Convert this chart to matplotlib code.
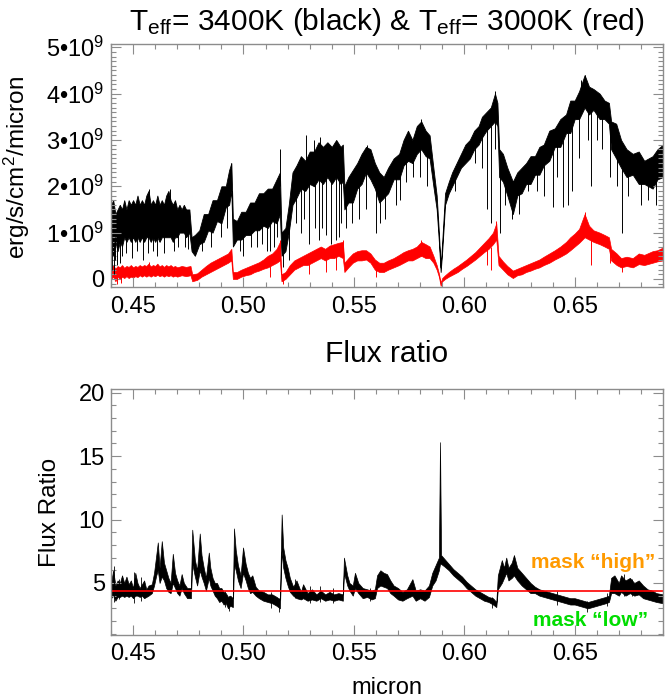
import matplotlib.pyplot as plt
from matplotlib.ticker import MultipleLocator, FixedLocator, FixedFormatter

plt.rcParams['font.family'] = ['Liberation Sans', 'DejaVu Sans']
plt.rcParams['mathtext.fontset'] = 'custom'
plt.rcParams['mathtext.rm'] = 'Liberation Sans'
plt.rcParams['mathtext.it'] = 'Liberation Sans:italic'
plt.rcParams['mathtext.bf'] = 'Liberation Sans:bold'

# Teff = 3400K spectrum (units of 1e9 erg/s/cm2/micron): wavelength, lower and upper edge of the band
wl_hot = [0.4400, 0.4410, 0.4420, 0.4430, 0.4440, 0.4450, 0.4460, 0.4470, 0.4480, 0.4490,
          0.4500, 0.4510, 0.4520, 0.4530, 0.4540, 0.4550, 0.4560, 0.4570, 0.4580, 0.4590,
          0.4600, 0.4610, 0.4620, 0.4630, 0.4640, 0.4650, 0.4660, 0.4670, 0.4680, 0.4690,
          0.4700, 0.4710, 0.4720, 0.4730, 0.4740, 0.4755, 0.4765, 0.4780, 0.4800, 0.4820,
          0.4840, 0.4860, 0.4880, 0.4900, 0.4920, 0.4935, 0.4945, 0.4952, 0.4970, 0.4990,
          0.5010, 0.5030, 0.5050, 0.5070, 0.5090, 0.5110, 0.5130, 0.5150, 0.5165, 0.5172,
          0.5190, 0.5205, 0.5222, 0.5240, 0.5260, 0.5280, 0.5300, 0.5320, 0.5340, 0.5360,
          0.5380, 0.5400, 0.5420, 0.5440, 0.5450, 0.5457, 0.5475, 0.5495, 0.5515, 0.5535,
          0.5555, 0.5575, 0.5595, 0.5615, 0.5635, 0.5655, 0.5680, 0.5705, 0.5725, 0.5745,
          0.5765, 0.5785, 0.5805, 0.5825, 0.5843, 0.5860, 0.5875, 0.5885, 0.5893, 0.5900,
          0.5913, 0.5930, 0.5945, 0.5965, 0.5985, 0.6005, 0.6025, 0.6045, 0.6065, 0.6080,
          0.6100, 0.6120, 0.6139, 0.6150, 0.6158, 0.6175, 0.6195, 0.6220, 0.6240, 0.6260,
          0.6280, 0.6300, 0.6320, 0.6340, 0.6360, 0.6385, 0.6410, 0.6435, 0.6461, 0.6480,
          0.6500, 0.6520, 0.6545, 0.6565, 0.6585, 0.6613, 0.6635, 0.6655, 0.6665, 0.6688,
          0.6710, 0.6735, 0.6763, 0.6790, 0.6815, 0.6853, 0.6875, 0.6900]
lo_hot = [0.7, 0.5, 0.8, 0.6, 0.8, 0.7, 0.9, 0.8, 0.9, 0.8,
          0.9, 0.8, 0.9, 0.8, 0.9, 0.8, 0.9, 0.9, 0.8, 0.9,
          0.8, 0.9, 0.8, 0.9, 0.9, 0.9, 0.9, 0.9, 0.8, 0.9,
          0.9, 1.0, 1.0, 1.0, 0.9, 1.0, 0.6, 0.5, 0.75, 0.8,
          1.05, 1.0, 1.25, 1.2, 1.55, 1.6, 1.9, 0.7, 0.85, 0.85,
          0.95, 0.95, 1.05, 1.05, 1.15, 1.1, 1.25, 1.2, 1.4, 0.5,
          0.6, 1.0, 1.6, 1.75, 1.95, 1.9, 2.05, 2.0, 2.15, 2.05,
          2.2, 2.05, 2.2, 2.05, 2.1, 1.5, 1.65, 1.65, 1.95, 2.05,
          2.3, 2.15, 1.95, 1.65, 1.75, 1.85, 2.15, 2.15, 2.45, 2.55,
          2.5, 2.7, 2.8, 2.65, 2.6, 2.0, 1.5, 0.8, 0.15, 0.6,
          1.6, 1.85, 2.0, 2.2, 2.4, 2.5, 2.6, 2.8, 2.9, 3.05,
          3.2, 3.3, 3.4, 3.3, 2.2, 2.1, 1.8, 1.4, 1.8, 1.85,
          2.05, 2.05, 2.25, 2.25, 2.45, 2.55, 2.85, 2.85, 3.15, 3.15,
          3.45, 3.45, 3.7, 3.55, 3.65, 3.45, 3.45, 3.35, 2.8, 2.6,
          2.4, 2.2, 2.25, 2.05, 2.05, 1.95, 2.15, 2.2]
hi_hot = [1.6, 1.7, 1.4, 1.5, 1.6, 1.5, 1.7, 1.5, 1.7, 1.6,
          1.7, 1.6, 1.8, 1.6, 1.7, 1.6, 1.8, 1.9, 1.6, 1.7,
          1.6, 1.8, 1.6, 1.7, 1.6, 1.8, 1.9, 1.7, 1.6, 1.7,
          1.5, 1.6, 1.5, 1.6, 1.5, 1.5, 0.9, 0.95, 1.05, 1.4,
          1.4, 1.7, 1.7, 2.0, 2.0, 2.35, 2.5, 1.3, 1.25, 1.45,
          1.45, 1.65, 1.65, 1.85, 1.85, 1.95, 1.95, 2.15, 2.3, 1.0,
          1.1, 1.6, 2.3, 2.45, 2.65, 2.55, 2.75, 2.75, 2.95, 2.85,
          2.95, 2.85, 3.0, 2.85, 2.9, 2.0, 2.2, 2.35, 2.5, 2.7,
          2.85, 2.8, 2.5, 2.3, 2.2, 2.4, 2.6, 2.7, 3.0, 3.2,
          3.0, 3.3, 3.4, 3.2, 3.1, 2.4, 1.8, 1.0, 0.25, 0.8,
          1.85, 2.1, 2.3, 2.5, 2.7, 2.9, 3.0, 3.2, 3.3, 3.5,
          3.6, 3.7, 4.0, 3.8, 2.8, 2.7, 2.4, 2.1, 2.3, 2.4,
          2.5, 2.65, 2.65, 2.85, 2.9, 3.2, 3.25, 3.45, 3.55, 3.85,
          3.85, 4.05, 4.4, 4.15, 4.1, 4.0, 3.85, 3.8, 3.4, 3.35,
          3.0, 2.8, 2.7, 2.75, 2.55, 2.65, 2.8, 2.9]

# narrow lines of the 3400K spectrum (absorption dips and spikes): wavelength, bottom, top
line_wl_hot = [0.4405, 0.4412, 0.4418, 0.4425, 0.4440, 0.4450, 0.4470, 0.4495, 0.4520, 0.4545,
               0.4568, 0.4570, 0.4590, 0.4610, 0.4640, 0.4665, 0.4685, 0.4705, 0.4733, 0.4750,
               0.4810, 0.4855, 0.4900, 0.4925, 0.4945, 0.4985, 0.5000, 0.5035, 0.5060, 0.5085,
               0.5105, 0.5120, 0.5140, 0.5150, 0.5165, 0.5180, 0.5208, 0.5240, 0.5260, 0.5275,
               0.5282, 0.5297, 0.5318, 0.5325, 0.5342, 0.5348, 0.5355, 0.5372, 0.5395, 0.5417,
               0.5432, 0.5440, 0.5465, 0.5490, 0.5525, 0.5555, 0.5560, 0.5598, 0.5620, 0.5640,
               0.5690, 0.5710, 0.5738, 0.5770, 0.5800, 0.5806, 0.5830, 0.5960, 0.6050, 0.6080,
               0.6103, 0.6123, 0.6139, 0.6140, 0.6163, 0.6185, 0.6215, 0.6250, 0.6290, 0.6330,
               0.6360, 0.6400, 0.6420, 0.6445, 0.6468, 0.6490, 0.6520, 0.6530, 0.6545, 0.6560,
               0.6575, 0.6600, 0.6625, 0.6658, 0.6690, 0.6715, 0.6740, 0.6800, 0.6830, 0.6870]
line_lo_hot = [0.2, 0.1, 0.4, 0.3, 0.35, 0.5, 0.55, 0.45, 0.6, 0.4,
               0.55, 1.5, 0.6, 0.5, 0.55, 1.5, 0.6, 0.7, 0.7, 0.65,
               0.6, 0.7, 0.9, 1.1, 2.0, 0.6, 0.5, 0.7, 0.7, 0.75,
               0.6, 0.6, 0.7, 0.9, 2.0, 0.25, 0.4, 1.2, 1.0, 1.3,
               2.4, 0.75, 2.4, 1.1, 0.85, 2.6, 1.1, 0.95, 0.75, 0.85,
               0.9, 1.2, 1.1, 1.2, 1.3, 1.5, 2.6, 1.0, 1.2, 1.3,
               1.6, 1.7, 2.1, 2.2, 2.2, 3.1, 2.0, 1.9, 2.5, 2.4,
               1.5, 1.2, 3.6, 2.8, 1.0, 1.6, 1.3, 1.4, 1.9, 1.9,
               1.8, 1.55, 2.2, 1.55, 1.6, 1.9, 2.6, 3.8, 4.0, 3.0,
               2.0, 3.0, 2.8, 2.2, 2.0, 1.0, 1.8, 1.6, 1.7, 1.6]
line_hi_hot = [0.9, 0.8, 0.9, 0.9, 0.9, 0.9, 0.9, 0.95, 1.0, 1.0,
               1.0, 1.95, 1.0, 1.0, 1.0, 1.95, 1.0, 1.0, 1.1, 1.1,
               0.9, 1.2, 1.4, 1.6, 2.5, 0.95, 1.0, 1.1, 1.2, 1.2,
               1.3, 1.3, 1.3, 1.5, 2.8, 0.8, 1.2, 1.9, 2.0, 2.1,
               3.1, 2.1, 3.0, 2.2, 2.2, 3.07, 2.2, 2.2, 2.3, 2.3,
               2.2, 2.2, 1.8, 1.8, 2.0, 2.4, 2.9, 2.1, 1.8, 1.9,
               2.2, 2.3, 2.6, 2.7, 2.8, 3.45, 2.7, 2.3, 2.9, 3.1,
               3.3, 3.4, 4.05, 3.5, 2.4, 2.2, 1.8, 1.9, 2.2, 2.3,
               2.5, 2.9, 2.9, 3.0, 3.2, 3.3, 3.6, 4.3, 4.4, 3.7,
               3.8, 3.6, 3.5, 3.5, 2.7, 2.5, 2.3, 2.1, 2.1, 2.2]

# Teff = 3000K spectrum
wl_cool = [0.4400, 0.4410, 0.4420, 0.4430, 0.4440, 0.4450, 0.4460, 0.4470, 0.4480, 0.4490,
           0.4500, 0.4510, 0.4520, 0.4530, 0.4540, 0.4550, 0.4560, 0.4570, 0.4580, 0.4590,
           0.4600, 0.4610, 0.4620, 0.4630, 0.4640, 0.4650, 0.4660, 0.4670, 0.4680, 0.4690,
           0.4700, 0.4720, 0.4740, 0.4760, 0.4768, 0.4790, 0.4810, 0.4830, 0.4850, 0.4870,
           0.4890, 0.4910, 0.4930, 0.4945, 0.4952, 0.4970, 0.4990, 0.5010, 0.5030, 0.5050,
           0.5070, 0.5090, 0.5110, 0.5130, 0.5150, 0.5165, 0.5172, 0.5190, 0.5210, 0.5230,
           0.5250, 0.5270, 0.5290, 0.5310, 0.5330, 0.5350, 0.5370, 0.5390, 0.5410, 0.5430,
           0.5450, 0.5457, 0.5475, 0.5495, 0.5515, 0.5535, 0.5555, 0.5575, 0.5595, 0.5615,
           0.5635, 0.5655, 0.5680, 0.5705, 0.5725, 0.5745, 0.5765, 0.5785, 0.5805, 0.5825,
           0.5843, 0.5860, 0.5875, 0.5885, 0.5893, 0.5900, 0.5913, 0.5930, 0.5950, 0.5970,
           0.5990, 0.6010, 0.6030, 0.6050, 0.6070, 0.6090, 0.6110, 0.6130, 0.6145, 0.6155,
           0.6175, 0.6195, 0.6220, 0.6240, 0.6260, 0.6280, 0.6300, 0.6320, 0.6340, 0.6360,
           0.6385, 0.6410, 0.6435, 0.6461, 0.6480, 0.6500, 0.6520, 0.6545, 0.6565, 0.6585,
           0.6613, 0.6635, 0.6655, 0.6665, 0.6690, 0.6710, 0.6735, 0.6763, 0.6790, 0.6815,
           0.6853, 0.6875, 0.6900]
lo_cool = [0.00, 0.05, -0.05, 0.05, 0.00, 0.05, 0.02, 0.06, 0.02, 0.05,
           0.03, 0.06, 0.04, 0.08, 0.05, 0.08, 0.05, 0.08, 0.05, 0.08,
           0.06, 0.09, 0.06, 0.08, 0.05, 0.08, 0.06, 0.08, 0.05, 0.07,
           0.05, 0.08, 0.06, 0.08, -0.05, -0.02, 0.05, 0.10, 0.15, 0.20,
           0.25, 0.30, 0.35, 0.40, 0.00, 0.00, 0.05, 0.08, 0.10, 0.15,
           0.18, 0.22, 0.25, 0.30, 0.35, 0.40, -0.05, 0.00, 0.10, 0.20,
           0.25, 0.30, 0.30, 0.35, 0.40, 0.45, 0.40, 0.45, 0.45, 0.50,
           0.45, 0.15, 0.25, 0.35, 0.40, 0.40, 0.42, 0.35, 0.20, 0.15,
           0.15, 0.20, 0.25, 0.30, 0.35, 0.40, 0.40, 0.45, 0.50, 0.45,
           0.45, 0.35, 0.20, 0.05, -0.15, -0.05, 0.00, 0.05, 0.10, 0.15,
           0.22, 0.28, 0.35, 0.42, 0.50, 0.58, 0.65, 0.75, 0.85, 0.30,
           0.20, 0.10, 0.02, 0.08, 0.10, 0.15, 0.18, 0.22, 0.25, 0.30,
           0.35, 0.42, 0.48, 0.55, 0.62, 0.70, 0.78, 0.90, 0.85, 0.80,
           0.75, 0.70, 0.65, 0.40, 0.30, 0.25, 0.28, 0.25, 0.32, 0.30,
           0.35, 0.38, 0.40]
hi_cool = [0.25, 0.30, 0.22, 0.28, 0.25, 0.30, 0.24, 0.28, 0.26, 0.30,
           0.25, 0.28, 0.26, 0.30, 0.27, 0.30, 0.28, 0.33, 0.27, 0.30,
           0.28, 0.33, 0.27, 0.30, 0.26, 0.30, 0.27, 0.30, 0.26, 0.28,
           0.25, 0.28, 0.26, 0.28, 0.10, 0.12, 0.20, 0.28, 0.35, 0.40,
           0.45, 0.50, 0.55, 0.65, 0.15, 0.15, 0.20, 0.24, 0.28, 0.32,
           0.36, 0.42, 0.50, 0.55, 0.65, 0.80, 0.10, 0.15, 0.30, 0.40,
           0.45, 0.50, 0.55, 0.60, 0.65, 0.70, 0.65, 0.72, 0.75, 0.78,
           0.80, 0.35, 0.45, 0.55, 0.60, 0.62, 0.62, 0.55, 0.42, 0.35,
           0.35, 0.40, 0.45, 0.52, 0.58, 0.62, 0.65, 0.70, 0.80, 0.75,
           0.70, 0.50, 0.30, 0.12, -0.08, 0.02, 0.08, 0.15, 0.22, 0.28,
           0.35, 0.42, 0.50, 0.58, 0.68, 0.78, 0.88, 1.00, 1.20, 0.50,
           0.38, 0.28, 0.18, 0.22, 0.26, 0.30, 0.34, 0.38, 0.42, 0.48,
           0.55, 0.62, 0.70, 0.80, 0.90, 0.98, 1.08, 1.40, 1.15, 1.05,
           1.00, 0.95, 0.90, 0.65, 0.55, 0.45, 0.48, 0.45, 0.55, 0.52,
           0.60, 0.62, 0.68]

line_wl_cool = [0.4425, 0.4445, 0.4570, 0.5120, 0.5165, 0.5180, 0.5298, 0.5372, 0.5417, 0.5450,
                0.5598, 0.5805, 0.6103, 0.6123, 0.6145, 0.6545, 0.6575, 0.6658, 0.6715]
line_lo_cool = [-0.10, -0.08, 0.10, 0.05, 0.40, -0.10, 0.10, 0.15, 0.20, 0.50,
                0.05, 0.50, 0.30, 0.20, 0.90, 1.00, 0.30, 0.35, 0.15]
line_hi_cool = [0.10, 0.10, 0.36, 0.30, 0.85, 0.05, 0.35, 0.45, 0.50, 0.85,
                0.25, 0.85, 0.70, 0.70, 1.25, 1.45, 1.00, 0.70, 0.35]

# flux ratio 3400K / 3000K
wl_ratio = [0.4400, 0.4410, 0.4420, 0.4430, 0.4440, 0.4450, 0.4460, 0.4470, 0.4480, 0.4490,
            0.4500, 0.4510, 0.4520, 0.4530, 0.4540, 0.4550, 0.4560, 0.4570, 0.4585, 0.4595,
            0.4605, 0.4612, 0.4620, 0.4630, 0.4640, 0.4650, 0.4660, 0.4670, 0.4680, 0.4690,
            0.4700, 0.4710, 0.4720, 0.4730, 0.4745, 0.4762, 0.4768, 0.4780, 0.4790, 0.4802,
            0.4810, 0.4820, 0.4830, 0.4843, 0.4850, 0.4860, 0.4870, 0.4880, 0.4890, 0.4900,
            0.4910, 0.4920, 0.4930, 0.4940, 0.4952, 0.4957, 0.4965, 0.4975, 0.4987, 0.4998,
            0.5010, 0.5020, 0.5030, 0.5040, 0.5055, 0.5070, 0.5090, 0.5110, 0.5130, 0.5150,
            0.5165, 0.5173, 0.5180, 0.5190, 0.5200, 0.5210, 0.5225, 0.5240, 0.5260, 0.5270,
            0.5290, 0.5310, 0.5330, 0.5350, 0.5370, 0.5390, 0.5410, 0.5430, 0.5450, 0.5455,
            0.5470, 0.5480, 0.5495, 0.5505, 0.5520, 0.5540, 0.5560, 0.5580, 0.5595, 0.5605,
            0.5620, 0.5635, 0.5650, 0.5665, 0.5680, 0.5700, 0.5720, 0.5740, 0.5765, 0.5780,
            0.5800, 0.5820, 0.5840, 0.5855, 0.5870, 0.5885, 0.5890, 0.5895, 0.5910, 0.5930,
            0.5950, 0.5970, 0.5990, 0.6010, 0.6030, 0.6050, 0.6070, 0.6090, 0.6110, 0.6130,
            0.6145, 0.6152, 0.6170, 0.6180, 0.6190, 0.6200, 0.6215, 0.6225, 0.6240, 0.6260,
            0.6280, 0.6300, 0.6320, 0.6340, 0.6360, 0.6380, 0.6400, 0.6420, 0.6440, 0.6460,
            0.6480, 0.6500, 0.6520, 0.6540, 0.6560, 0.6580, 0.6600, 0.6620, 0.6640, 0.6655,
            0.6665, 0.6680, 0.6700, 0.6710, 0.6730, 0.6750, 0.6770, 0.6790, 0.6810, 0.6830,
            0.6850, 0.6870, 0.6900]
lo_ratio = [3.8, 4.0, 3.6, 3.9, 3.9, 4.0, 3.9, 4.0, 3.9, 4.0,
            3.8, 4.0, 4.0, 3.9, 4.0, 3.8, 3.9, 4.0, 4.2, 4.8,
            5.6, 6.0, 5.0, 5.5, 5.2, 4.6, 4.3, 4.2, 5.0, 4.6,
            4.2, 4.0, 4.6, 4.2, 3.8, 3.8, 6.5, 5.5, 4.8, 6.0,
            5.5, 5.0, 4.4, 5.4, 4.8, 4.4, 4.0, 3.8, 3.5, 3.6,
            3.3, 3.4, 3.0, 3.2, 3.1, 6.5, 6.0, 5.2, 4.6, 5.8,
            5.2, 4.6, 4.2, 4.3, 4.0, 3.8, 3.6, 3.5, 3.4, 3.2,
            3.0, 7.5, 6.2, 5.4, 4.8, 4.3, 4.0, 3.8, 3.7, 3.8,
            3.6, 3.7, 3.6, 3.8, 3.6, 3.7, 3.6, 3.7, 3.6, 5.8,
            4.8, 4.4, 4.0, 4.6, 4.2, 3.8, 3.9, 3.7, 3.8, 4.6,
            4.8, 4.7, 4.6, 4.2, 4.0, 3.7, 3.6, 3.8, 4.0, 3.6,
            3.8, 3.6, 3.9, 4.8, 5.2, 6.0, 6.5, 6.5, 6.3, 6.0,
            5.6, 5.3, 5.0, 4.6, 4.3, 4.0, 3.8, 3.6, 3.5, 3.3,
            3.1, 4.5, 5.0, 5.4, 5.8, 5.2, 5.4, 5.6, 5.2, 4.8,
            4.5, 4.2, 4.2, 4.0, 3.9, 3.8, 3.7, 3.6, 3.5, 3.4,
            3.3, 3.3, 3.2, 3.1, 3.0, 3.1, 3.2, 3.3, 3.4, 3.5,
            4.2, 4.2, 4.0, 4.3, 4.0, 4.2, 4.0, 4.1, 3.8, 3.7,
            3.6, 3.5, 3.4]
hi_ratio = [5.0, 6.0, 4.8, 5.2, 5.0, 5.6, 5.0, 5.5, 4.9, 5.2,
            4.6, 5.8, 5.0, 4.6, 4.9, 5.2, 4.5, 4.8, 4.9, 5.8,
            7.2, 8.2, 6.2, 8.3, 6.6, 6.0, 5.4, 5.0, 7.3, 5.8,
            5.2, 4.8, 5.7, 5.0, 4.6, 4.6, 9.2, 6.8, 6.0, 8.9,
            7.2, 6.2, 5.4, 7.4, 6.2, 5.4, 5.0, 5.0, 4.6, 4.6,
            4.3, 4.2, 3.9, 4.0, 3.8, 9.3, 7.6, 6.4, 5.6, 7.8,
            6.5, 5.8, 5.4, 5.6, 4.7, 4.4, 4.3, 4.1, 4.1, 3.9,
            3.7, 10.4, 7.8, 6.8, 6.2, 5.4, 4.7, 5.2, 4.3, 4.9,
            4.2, 4.5, 4.1, 4.4, 4.1, 4.3, 4.1, 4.2, 4.1, 7.0,
            5.6, 5.0, 4.8, 5.8, 5.0, 4.6, 4.5, 4.4, 4.5, 5.6,
            6.0, 5.8, 5.7, 5.2, 4.8, 4.6, 4.3, 4.5, 5.3, 4.4,
            4.5, 4.4, 4.8, 5.8, 6.4, 7.0, 16.1, 7.2, 6.9, 6.5,
            6.1, 5.8, 5.5, 5.1, 4.8, 4.5, 4.3, 4.1, 3.9, 3.8,
            3.5, 5.6, 6.8, 6.2, 7.0, 6.2, 6.6, 7.2, 6.2, 5.8,
            5.4, 5.0, 4.7, 4.5, 4.4, 4.3, 4.2, 4.1, 4.0, 3.9,
            3.8, 3.8, 3.7, 3.6, 3.5, 3.6, 3.7, 3.8, 3.9, 4.0,
            5.4, 5.6, 5.0, 5.6, 5.2, 5.4, 5.0, 5.2, 4.8, 4.5,
            4.4, 4.2, 4.1]

line_wl_ratio = [0.4415, 0.4435, 0.4505, 0.4535, 0.4915, 0.4935, 0.5125, 0.5163, 0.5235, 0.5300,
                 0.5345, 0.5405, 0.5575, 0.6125, 0.6420, 0.6555, 0.6645, 0.6725, 0.6760]
line_lo_ratio = [3.5, 3.7, 3.4, 3.6, 3.1, 2.8, 3.0, 2.7, 3.8, 3.4,
                 3.5, 3.4, 3.6, 3.0, 3.3, 2.7, 3.2, 4.0, 4.0]
line_hi_ratio = [6.3, 5.3, 5.9, 5.5, 4.4, 4.0, 4.3, 3.8, 5.3, 4.8,
                 4.8, 4.6, 4.6, 3.9, 4.4, 3.6, 4.2, 5.7, 5.3]

ratio_level = 4.33

y_ticks_top = [0, 1, 2, 3, 4, 5]
y_labels_top = ['0', '1•10$^{9}$', '2•10$^{9}$', '3•10$^{9}$', '4•10$^{9}$', '5•10$^{9}$']
x_ticks = [0.45, 0.50, 0.55, 0.60, 0.65]
x_labels = ['0.45', '0.50', '0.55', '0.60', '0.65']
y_ticks_bottom = [5, 10, 15, 20]

fig = plt.figure(figsize=(6.65, 6.99), dpi=100)
ax1 = fig.add_axes([0.1669, 0.589, 0.8301, 0.348])
ax2 = fig.add_axes([0.1669, 0.0916, 0.8301, 0.352])

grey = '#8c8c8c'


def style_axes(ax):
    for s in ax.spines.values():
        s.set_color(grey)
        s.set_linewidth(1.0)
    ax.tick_params(which='both', direction='in', top=True, right=True,
                   color=grey, labelsize=17, width=0.8)
    ax.tick_params(which='major', length=7)
    ax.tick_params(which='minor', length=3.5)
    ax.tick_params(axis='x', pad=6)
    ax.tick_params(axis='y', pad=4.5)
    ax.xaxis.set_major_locator(FixedLocator(x_ticks))
    ax.xaxis.set_major_formatter(FixedFormatter(x_labels))
    ax.xaxis.set_minor_locator(MultipleLocator(0.01))
    ax.set_xlim(0.44, 0.69)


# top panel: spectra
ax1.fill_between(wl_hot, lo_hot, hi_hot, color='black', lw=0.6)
ax1.vlines(line_wl_hot, line_lo_hot, line_hi_hot, color='black', lw=0.7)
ax1.fill_between(wl_cool, lo_cool, hi_cool, color='red', lw=0.5)
ax1.vlines(line_wl_cool, line_lo_cool, line_hi_cool, color='red', lw=0.7)
style_axes(ax1)
ax1.set_ylim(-0.18, 5.07)
ax1.yaxis.set_major_locator(FixedLocator(y_ticks_top))
ax1.yaxis.set_major_formatter(FixedFormatter(y_labels_top))
ax1.yaxis.set_minor_locator(MultipleLocator(0.1))
fig.text(0.582, 0.957, 'T$_{\\rm eff}$= 3400K (black) & T$_{\\rm eff}$= 3000K (red)',
         fontsize=21.5, ha='center', va='baseline')
fig.text(0.026, 0.760, 'erg/s/cm$^{2}$/micron', rotation=90, fontsize=17.5,
         ha='center', va='center')

# bottom panel: ratio
ax2.fill_between(wl_ratio, lo_ratio, hi_ratio, color='black', lw=0.5)
ax2.vlines(line_wl_ratio, line_lo_ratio, line_hi_ratio, color='black', lw=0.6)
ax2.axhline(ratio_level, color='red', lw=1.2)
style_axes(ax2)
ax2.set_ylim(0.9, 20.3)
ax2.yaxis.set_major_locator(FixedLocator(y_ticks_bottom))
ax2.yaxis.set_minor_locator(MultipleLocator(1))
fig.text(0.582, 0.482, 'Flux ratio', fontsize=21.5, ha='center', va='baseline')
fig.text(0.582, 0.0072, 'micron', fontsize=17, ha='center', va='baseline')
fig.text(0.075, 0.267, 'Flux Ratio', rotation=90, fontsize=17.5,
         ha='center', va='center')
ax2.text(0.6867, 6.58, 'mask “high”', color='#ff9a00', fontsize=15,
         fontweight='bold', ha='right', va='center')
ax2.text(0.6831, 2.08, 'mask “low”', color='#00dd00', fontsize=15,
         fontweight='bold', ha='right', va='center')

fig.savefig('out.png', dpi=100)
